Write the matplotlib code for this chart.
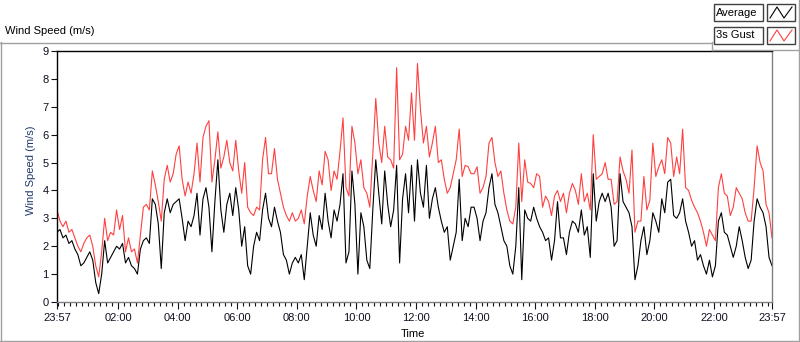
"""
Wind speed chart: 1-day trace of average wind and 3 s gust.
Saves out.png (800x342).
"""
import numpy as np
import matplotlib
matplotlib.use("Agg")
import matplotlib.pyplot as plt
from matplotlib.lines import Line2D
from matplotlib.patches import Rectangle

STEP_MIN = 6  # sample spacing, minutes after 23:57

avg_speed = [
    2.5, 2.6, 2.3, 2.4, 2.1, 2.2, 1.9, 1.7, 1.3, 1.4,
    1.6, 1.8, 1.5, 0.7, 0.3, 1.0, 2.2, 1.4, 1.6, 1.8,
    2.0, 1.9, 2.1, 1.4, 1.6, 1.3, 1.2, 1.0, 1.9, 2.2,
    2.3, 2.1, 3.7, 3.5, 2.8, 1.2, 3.2, 3.7, 3.2, 3.5,
    3.6, 3.7, 3.0, 2.2, 2.9, 2.7, 3.1, 3.9, 2.4, 3.7,
    4.1, 3.4, 1.8, 3.6, 5.1, 3.3, 2.5, 3.5, 3.9, 3.1,
    4.1, 3.3, 2.0, 2.7, 1.3, 1.0, 2.0, 2.5, 2.2, 3.3,
    3.9, 3.0, 2.7, 3.4, 2.9, 2.5, 1.7, 1.5, 1.0, 1.4,
    1.6, 1.4, 1.7, 0.8, 2.0, 3.2, 2.4, 2.0, 3.1, 2.6,
    3.9, 2.9, 2.3, 3.3, 2.9, 3.5, 4.6, 1.4, 1.8, 4.7,
    3.5, 1.0, 3.2, 2.7, 1.5, 1.2, 3.3, 5.1, 3.9, 2.8,
    4.7, 3.5, 2.7, 3.3, 4.9, 1.4, 3.7, 4.6, 3.2, 4.9,
    2.9, 5.1, 3.9, 3.4, 4.9, 3.0, 3.7, 4.1, 3.4, 2.9,
    2.5, 2.7, 1.5, 2.0, 2.5, 4.4, 2.2, 3.0, 2.7, 3.4,
    3.4, 3.0, 2.2, 2.9, 3.2, 4.1, 4.6, 3.5, 3.2, 2.7,
    2.2, 2.0, 1.3, 1.0, 2.0, 4.1, 0.8, 3.3, 3.0, 2.9,
    3.4, 3.0, 2.7, 2.5, 2.2, 2.3, 1.5, 2.2, 3.6, 2.3,
    2.3, 1.7, 2.5, 2.9, 2.8, 2.5, 3.3, 2.4, 2.7, 1.6,
    4.6, 2.9, 3.6, 3.9, 3.6, 3.9, 3.4, 2.0, 2.2, 4.6,
    3.6, 3.4, 3.2, 2.7, 0.8, 1.3, 2.2, 2.7, 1.7, 2.2,
    3.2, 2.9, 2.5, 3.7, 3.2, 4.3, 4.4, 3.1, 3.0, 3.2,
    3.7, 2.9, 2.5, 2.0, 2.2, 1.5, 1.7, 1.3, 1.0, 1.5,
    0.9, 1.3, 2.9, 3.2, 2.5, 2.4, 2.0, 1.6, 2.0, 2.7,
    2.2, 1.6, 1.2, 1.5, 2.9, 3.7, 3.4, 3.2, 2.7, 1.6, 1.3,
]

gust_speed = [
    3.3, 2.9, 2.7, 2.9, 2.5, 2.6, 2.3, 2.0, 1.8, 2.1,
    2.3, 2.4, 2.0, 1.3, 0.9, 1.8, 3.0, 2.2, 2.5, 2.4,
    3.3, 2.6, 3.1, 1.8, 2.3, 1.8, 1.9, 1.4, 2.4, 3.4,
    3.5, 3.3, 4.7, 4.2, 3.6, 2.9, 4.4, 4.9, 4.3, 4.6,
    5.3, 5.6, 4.4, 3.8, 4.3, 3.9, 4.6, 5.7, 4.3, 5.9,
    6.3, 6.5, 4.3, 5.1, 6.1, 4.8, 5.2, 5.8, 5.0, 4.7,
    5.8, 4.7, 3.9, 5.0, 3.4, 3.2, 3.1, 3.4, 3.3, 5.1,
    5.9, 4.6, 4.6, 5.5, 4.4, 3.9, 3.4, 3.1, 2.9, 3.2,
    2.9, 3.0, 3.3, 2.8, 3.8, 4.5, 4.0, 3.6, 4.7, 4.2,
    5.4, 5.1, 4.0, 4.7, 4.4, 5.4, 6.6, 4.1, 3.8, 6.3,
    5.7, 4.6, 5.1, 4.1, 3.9, 3.4, 5.3, 7.3, 5.7, 5.0,
    6.3, 5.2, 5.1, 4.8, 8.4, 5.1, 5.3, 6.3, 5.8, 7.5,
    5.8, 8.55, 6.9, 5.7, 6.3, 5.2, 5.7, 6.3, 5.0, 5.1,
    4.4, 3.9, 4.1, 4.6, 5.1, 6.2, 4.5, 4.9, 4.85, 4.6,
    4.6, 4.85, 3.9, 4.1, 4.5, 5.7, 5.9, 5.0, 4.5, 4.7,
    3.9, 3.3, 2.9, 2.8, 3.4, 5.7, 3.6, 5.1, 4.3, 4.25,
    4.1, 4.6, 4.5, 3.4, 3.8, 3.6, 3.1, 3.8, 4.0, 3.6,
    3.9, 3.2, 3.9, 4.25, 4.0, 3.5, 4.6, 3.6, 3.9, 3.3,
    6.0, 4.4, 4.5, 4.6, 5.0, 4.4, 4.4, 3.5, 3.6, 5.2,
    4.7, 4.4, 3.9, 5.45, 2.5, 2.9, 2.9, 4.5, 3.3, 3.65,
    5.7, 4.5, 4.85, 5.1, 4.6, 5.9, 5.7, 4.5, 5.2, 4.6,
    6.2, 4.1, 4.0, 3.65, 3.4, 3.2, 2.9, 2.5, 2.0, 2.6,
    2.4, 2.2, 4.1, 4.6, 3.9, 3.8, 3.1, 3.4, 4.1, 3.9,
    3.7, 3.2, 2.9, 2.9, 4.1, 5.6, 5.0, 4.7, 3.5, 3.2, 2.3,
]

tick_minutes = [0, 123, 243, 363, 483, 603, 723, 843, 963, 1083, 1203, 1323, 1440]
tick_labels = ["23:57", "02:00", "04:00", "06:00", "08:00", "10:00", "12:00",
               "14:00", "16:00", "18:00", "20:00", "22:00", "23:57"]
series_names = ["Average", "3s Gust"]

W, H = 800, 342
FONT = "Liberation Sans"
GRAY = "#a0a0a0"
GUST_RED = "#ff4040"


def fx(px):
    return px / W


def fy(py):
    return 1 - py / H


minutes = np.arange(len(avg_speed)) * STEP_MIN

plt.rcParams["font.family"] = [FONT, "DejaVu Sans"]
plt.rcParams["font.size"] = 8

fig = plt.figure(figsize=(W / 100, H / 100), dpi=100)
fig.patch.set_facecolor("white")

ax = fig.add_axes([fx(57), fy(302), fx(772) - fx(57), fy(51) - fy(302)])
ax.plot(minutes, gust_speed, color=GUST_RED, lw=0.8)
ax.plot(minutes, avg_speed, color="black", lw=0.8)

ax.set_xlim(0, 1440)
ax.set_ylim(0, 9)
ax.set_yticks(range(10))
ax.set_xticks(tick_minutes)
ax.set_xticklabels(tick_labels)
ax.set_xticks(np.arange(3, 1440, 12), minor=True)
ax.tick_params(axis="y", length=4, width=0.8, pad=2, colors="#101020")
ax.tick_params(axis="x", which="major", length=5, width=0.8, pad=3, colors="#101020")
ax.tick_params(axis="x", which="minor", length=3, width=0.8, colors="#101020")
ax.spines["top"].set_color("black")
ax.spines["left"].set_color("black")
ax.spines["right"].set_color("#808080")
ax.spines["bottom"].set_color("#808080")
for s in ax.spines.values():
    s.set_linewidth(1.0)

fig.text(fx(31), fy(170), "Wind Speed (m/s)", rotation=90, ha="center", va="center",
         color="#1f3a6e", fontsize=8)
fig.text(fx(413), fy(334), "Time", ha="center", va="center", fontsize=8)
fig.text(fx(5), fy(31), "Wind Speed (m/s)", ha="left", va="center", fontsize=8)

# outer frame
frame = [
    ([0.5, 0.5], [42, 341]),
    ([0, 712], [42.5, 42.5]),
    ([712, 712], [42, 50]),
    ([712, 799], [50, 50]),
    ([799, 799], [0, 341]),
    ([0, 799], [341, 341]),
]
for xs, ys in frame:
    fig.add_artist(Line2D([fx(v) for v in xs], [fy(v) for v in ys], color=GRAY, lw=1.0))

# legend boxes
for i, (name, col) in enumerate(zip(series_names, ["black", GUST_RED])):
    top = 4 + i * 23
    fig.add_artist(Rectangle((fx(714), fy(top + 17)), fx(49), 17 / H,
                             facecolor="white", edgecolor="#404040", lw=1.0))
    fig.add_artist(Rectangle((fx(767), fy(top + 17)), fx(28), 17 / H,
                             facecolor="white", edgecolor="#404040", lw=1.0))
    fig.text(fx(716), fy(top + 8.5), name, ha="left", va="center", fontsize=8)
    zx = [770, 777, 784, 792]
    zy = [top + 14, top + 3, top + 14, top + 3]
    fig.add_artist(Line2D([fx(v) for v in zx], [fy(v) for v in zy], color=col, lw=0.8))

fig.savefig("out.png", dpi=100, facecolor=fig.get_facecolor())
